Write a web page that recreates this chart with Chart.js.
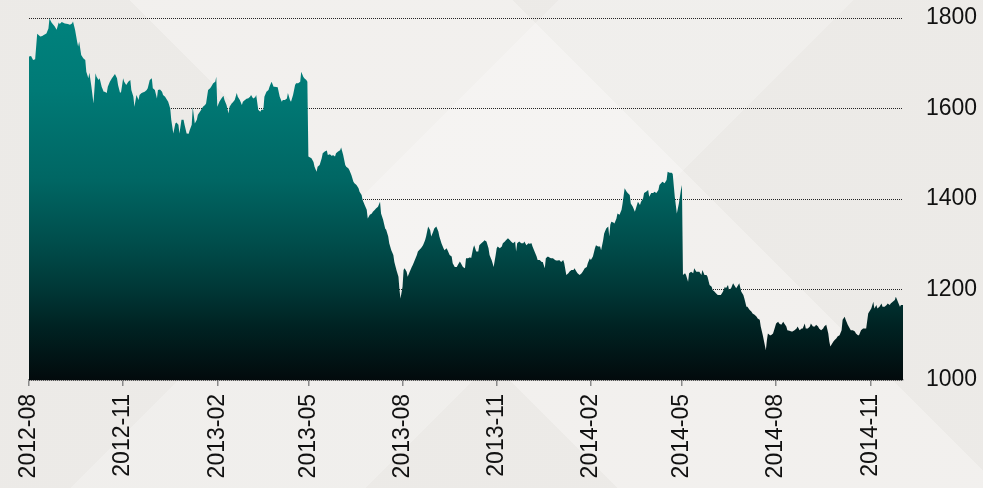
<!DOCTYPE html>
<html>
<head>
<meta charset="utf-8">
<script src="https://cdn.jsdelivr.net/npm/chart.js"></script>
<style>
  html, body { margin: 0; padding: 0; }
  body {
    width: 983px; height: 488px; overflow: hidden;
    background:
      linear-gradient(135deg, rgba(255,255,255,0) 0 38%, rgba(255,255,255,0.22) 38% 58%, rgba(255,255,255,0) 58%),
      linear-gradient(45deg, rgba(0,0,0,0.01) 0 42%, rgba(255,255,255,0.18) 42% 68%, rgba(0,0,0,0.01) 68%),
      #efedea;
  }
  #wrap { width: 983px; height: 488px; }
</style>
</head>
<body>
<div id="wrap"><canvas id="myChart" width="983" height="488"></canvas></div>
<script>
// days counted from 2012-08-01, price
const days = [0,2,4,6,8,11,13,14,17,19,20,22,25,27,29,30,32,35,38,40,42,43,45,47,48,49,51,53,55,56,58,59,61,63,65,66,68,69,71,73,74,76,77,79,81,84,86,87,89,90,92,93,95,97,99,100,102,103,105,107,108,110,113,115,116,118,120,121,123,125,126,128,130,131,133,134,136,138,139,141,143,144,146,147,149,151,152,154,156,157,159,160,162,164,165,167,169,170,172,173,175,177,178,180,182,183,184,186,188,190,191,193,195,196,198,199,201,203,204,206,208,209,211,213,214,216,217,219,221,222,224,226,227,229,230,232,234,235,237,239,240,243,245,247,248,250,252,253,255,256,258,260,261,263,265,266,268,269,271,272,273,276,278,279,281,282,284,286,287,289,
  291,292,294,296,297,299,300,302,304,305,307,309,310,312,313,315,317,318,320,322,323,325,326,328,330,331,333,335,336,338,339,341,343,344,346,348,349,351,352,354,356,357,359,361,362,363,365,366,367,369,370,372,374,375,377,379,380,382,383,385,387,388,390,392,393,395,396,398,400,401,403,405,406,408,409,411,413,414,416,418,419,421,422,424,426,427,429,431,432,434,435,437,439,440,442,444,445,447,449,450,452,453,454,456,457,458,460,462,463,465,466,468,470,471,473,475,476,477,479,481,483,484,486,488,489,491,492,494,496,497,499,501,502,504,505,507,509,510,512,514,515,517,518,520,522,523,525,527,528,530,532,533,535,536,538,540,541,543,545,546,548,549,551,553,554,556,558,
  559,561,562,564,566,567,568,569,571,572,574,575,577,579,580,582,584,585,587,588,590,592,593,595,597,598,600,601,603,605,606,608,610,611,613,615,616,618,619,621,623,624,626,628,629,631,632,633,635,637,638,639,641,642,644,645,647,649,650,652,654,655,657,658,660,662,663,665,667,668,670,671,673,675,676,678,680,681,683,684,686,688,689,691,693,694,696,698,699,701,702,704,706,707,709,711,712,714,715,717,719,720,721,722,724,725,727,728,730,732,733,735,737,738,740,741,743,745,746,748,750,751,753,755,756,758,759,761,763,764,766,768,769,771,772,774,776,777,779,781,782,783,786,787,789,790,792,794,795,797,798,800,802,803,805,807,808,810,811,813,815,816,818,820,821,823,825,826,828,829,831,833,834,836,838,839,841,842,844,846,847,849,851,852,854];

const prices = [1715,1716,1707,1709,1765,1759,1760,1762,1766,1777,1799,1790,1782,1774,1790,1787,1791,1788,1787,1785,1788,1792,1774,1748,1737,1748,1718,1711,1707,1681,1667,1679,1648,1611,1678,1670,1663,1667,1648,1637,1637,1634,1648,1659,1667,1676,1667,1652,1634,1637,1667,1659,1652,1659,1663,1641,1626,1604,1630,1619,1630,1634,1637,1641,1645,1663,1667,1645,1641,1622,1641,1642,1637,1630,1626,1622,1615,1600,1575,1545,1567,1569,1564,1545,1575,1575,1564,1545,1544,1552,1564,1603,1567,1575,1586,1593,1600,1604,1608,1611,1641,1645,1648,1656,1659,1670,1604,1615,1622,1628,1619,1608,1589,1604,1611,1613,1619,1634,1626,1619,1608,1615,1619,1622,1622,1626,1630,1622,1625,1630,1597,1593,1597,1597,1626,1637,1641,1648,1659,1648,1648,1647,1626,1615,1619,1619,1622,1634,1619,1615,1630,1652,1656,1656,1659,1681,1670,1667,1663,1659,1494,1490,1482,1471,1460,1471,1475,1490,1501,1505,
  1507,1497,1499,1495,1497,1494,1501,1505,1508,1514,1497,1475,1471,1468,1464,1453,1438,1435,1431,1424,1416,1409,1398,1387,1376,1357,1365,1368,1372,1376,1379,1383,1394,1368,1354,1335,1332,1317,1302,1287,1276,1261,1243,1228,1199,1180,1206,1243,1247,1239,1228,1239,1250,1254,1265,1276,1284,1289,1291,1298,1309,1317,1339,1331,1317,1328,1335,1339,1328,1317,1302,1291,1287,1291,1287,1276,1273,1258,1250,1250,1254,1262,1258,1250,1247,1269,1269,1271,1269,1291,1298,1284,1284,1298,1302,1306,1309,1306,1291,1276,1265,1258,1250,1276,1291,1295,1291,1295,1302,1306,1309,1313,1309,1306,1302,1306,1284,1302,1306,1302,1302,1306,1298,1302,1301,1302,1295,1284,1273,1265,1265,1261,1261,1247,1269,1273,1270,1269,1269,1265,1264,1264,1265,1261,1265,1258,1232,1236,1239,1243,1243,1247,1239,1236,1232,1236,1239,1247,1250,1258,1269,1265,1273,1291,1298,1295,1295,
  1287,1309,1324,1335,1339,1317,1343,1350,1348,1346,1357,1368,1365,1376,1390,1424,1416,1413,1409,1390,1383,1372,1379,1394,1387,1394,1401,1413,1416,1420,1405,1413,1413,1416,1413,1420,1431,1436,1438,1435,1442,1460,1458,1458,1455,1405,1387,1368,1390,1420,1431,1232,1236,1232,1217,1236,1239,1236,1247,1239,1239,1239,1232,1243,1232,1232,1228,1210,1206,1199,1195,1192,1188,1188,1188,1195,1206,1203,1210,1199,1203,1214,1210,1203,1210,1214,1195,1188,1180,1162,1162,1155,1151,1147,1144,1140,1136,1133,1118,1099,1077,1066,1088,1103,1099,1099,1103,1110,1125,1129,1125,1122,1129,1125,1118,1110,1109,1107,1107,1110,1114,1118,1110,1114,1114,1125,1114,1114,1118,1125,1118,1118,1122,1118,1114,1110,1114,1118,1122,1103,1085,1074,1085,1088,1092,1096,1099,1110,1133,1140,1133,1122,1114,1110,1110,1107,1103,1099,1099,1110,1114,1114,1114,1147,1151,1158,1173,1158,1166,1158,1162,1169,1162,1162,1166,1169,1166,1169,1173,1177,1184,1173,1162,1166,1166];

const tickDays = [0, 92, 184, 273, 365, 457, 549, 638, 730, 822];
const tickLabels = ['2012-08','2012-11','2013-02','2013-05','2013-08','2013-11','2014-02','2014-05','2014-08','2014-11'];
const yTicks = [1000, 1200, 1400, 1600, 1800];

const points = days.map(function(d, i) { return { x: d, y: prices[i] }; });

function areaFill(context) {
  const area = context.chart.chartArea;
  if (!area) return '#00807a';
  const g = context.chart.ctx.createLinearGradient(0, area.top, 0, area.bottom);
  g.addColorStop(0, 'rgb(0,130,125)');
  g.addColorStop(0.2, 'rgb(0,122,118)');
  g.addColorStop(0.45, 'rgb(0,102,99)');
  g.addColorStop(0.63, 'rgb(0,76,74)');
  g.addColorStop(0.75, 'rgb(0,55,54)');
  g.addColorStop(0.85, 'rgb(0,35,35)');
  g.addColorStop(1, 'rgb(2,10,12)');
  return g;
}

const ctx = document.getElementById('myChart');

new Chart(ctx, {
  type: 'line',
  data: {
    datasets: [{
      data: points,
      fill: 'start',
      backgroundColor: areaFill,
      borderWidth: 0,
      pointRadius: 0,
      tension: 0
    }]
  },
  options: {
    responsive: false,
    animation: false,
    layout: { padding: { left: 29, top: 18, right: 0, bottom: 0 } },
    plugins: { legend: { display: false }, tooltip: { enabled: false } },
    scales: {
      x: {
        type: 'linear',
        min: 0,
        max: 854,
        afterBuildTicks: function(scale) {
          scale.ticks = tickDays.map(function(v) { return { value: v }; });
        },
        afterFit: function(scale) { scale.height = 108; },
        grid: { drawOnChartArea: false, drawTicks: true, tickLength: 6, color: '#8a8a8a', lineWidth: 1.5 },
        border: { display: true, color: '#8a8a8a', width: 1.5 },
        ticks: {
          autoSkip: false,
          maxRotation: 90,
          minRotation: 90,
          padding: 8,
          color: '#111',
          font: { family: 'Liberation Sans, Arial, sans-serif', size: 23 },
          callback: function(v) {
            const i = tickDays.indexOf(v);
            return i >= 0 ? tickLabels[i] : '';
          }
        }
      },
      y: {
        position: 'right',
        min: 1000,
        max: 1800,
        afterBuildTicks: function(scale) {
          scale.ticks = yTicks.map(function(v) { return { value: v }; });
        },
        afterFit: function(scale) {
          scale.width = 80;
          scale.paddingTop = 0;
          scale.paddingBottom = 0;
        },
        grid: { drawTicks: false, color: 'rgba(0,0,0,0.85)', lineWidth: 1 },
        border: { display: false, dash: [1, 1] },
        ticks: {
          padding: 23,
          color: '#111',
          font: { family: 'Liberation Sans, Arial, sans-serif', size: 23 },
          callback: function(v) { return String(v); }
        }
      }
    }
  }
});
</script>
</body>
</html>
